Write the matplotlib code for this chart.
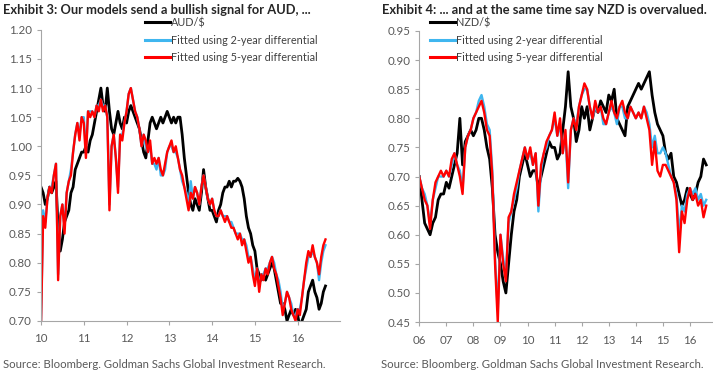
import numpy as np
import matplotlib
matplotlib.use("Agg")
import matplotlib.pyplot as plt

plt.rcParams['font.family'] = ['Lato', 'DejaVu Sans']

# ---- AUD panel data (values every 0.05 year from 2010.00) ----
aud_start, aud_step = 2010.0, 0.05
aud_spot = [0.93, 0.92, 0.90, 0.91, 0.93, 0.92, 0.93, 0.94, 0.86, 0.82, 0.84, 0.87, 0.88, 0.89, 0.92, 0.93, 0.96, 0.97, 0.98, 0.99,
            0.99, 1.00, 0.99, 1.01, 1.02, 1.04, 1.06, 1.08, 1.10, 1.07, 1.06, 1.10, 1.06, 1.03, 1.02, 1.04, 1.06, 1.04, 1.03, 1.05,
            1.04, 1.06, 1.07, 1.06, 1.05, 1.04, 1.03, 1.01, 0.99, 0.98, 1.01, 1.04, 1.05, 1.04, 1.03, 1.04, 1.05, 1.04, 1.05, 1.06,
            1.05, 1.04, 1.05, 1.04, 1.05, 1.05, 1.02, 0.98, 0.95, 0.92, 0.90, 0.89, 0.91, 0.90, 0.89, 0.92, 0.96, 0.93, 0.91, 0.89,
            0.89, 0.88, 0.87, 0.89, 0.90, 0.92, 0.93, 0.93, 0.94, 0.93, 0.94, 0.94, 0.945, 0.94, 0.93, 0.91, 0.88, 0.86, 0.85, 0.83,
            0.82, 0.79, 0.78, 0.77, 0.78, 0.77, 0.78, 0.79, 0.80, 0.79, 0.77, 0.75, 0.73, 0.73, 0.72, 0.70, 0.71, 0.72, 0.71, 0.72,
            0.71, 0.69, 0.70, 0.71, 0.72, 0.75, 0.76, 0.77, 0.75, 0.74, 0.72, 0.73, 0.75, 0.76]
aud_fit2 = [0.70, 0.89, 0.87, 0.91, 0.93, 0.93, 0.95, 0.97, 0.78, 0.88, 0.90, 0.86, 0.92, 0.94, 0.96, 0.99, 1.02, 1.04, 1.02, 1.05,
            1.05, 0.99, 1.06, 1.06, 1.06, 1.05, 1.07, 1.07, 1.08, 1.07, 1.07, 1.05, 0.90, 1.00, 1.02, 0.98, 0.93, 1.02, 1.02, 1.04,
            1.06, 1.09, 1.10, 1.08, 1.06, 1.05, 1.03, 1.00, 1.02, 1.00, 0.99, 1.00, 0.97, 0.97, 0.96, 0.98, 0.95, 0.95, 0.96, 0.99,
            1.00, 1.00, 0.99, 0.99, 0.98, 0.96, 0.94, 0.93, 0.92, 0.90, 0.94, 0.91, 0.93, 0.92, 0.90, 0.93, 0.95, 0.93, 0.91, 0.90,
            0.91, 0.89, 0.88, 0.88, 0.89, 0.88, 0.88, 0.88, 0.87, 0.87, 0.86, 0.85, 0.85, 0.85, 0.84, 0.84, 0.83, 0.81, 0.81, 0.79,
            0.77, 0.79, 0.76, 0.78, 0.78, 0.79, 0.79, 0.80, 0.81, 0.80, 0.78, 0.77, 0.75, 0.72, 0.73, 0.75, 0.74, 0.73, 0.71, 0.71,
            0.72, 0.72, 0.74, 0.77, 0.79, 0.81, 0.81, 0.82, 0.81, 0.80, 0.77, 0.80, 0.82, 0.83]
aud_fit5 = [0.69, 0.88, 0.86, 0.91, 0.93, 0.92, 0.95, 0.97, 0.77, 0.88, 0.90, 0.85, 0.92, 0.94, 0.95, 0.99, 1.02, 1.04, 1.01, 1.05,
            1.04, 0.98, 1.06, 1.05, 1.06, 1.05, 1.07, 1.06, 1.08, 1.06, 1.07, 1.05, 0.89, 1.00, 1.02, 0.98, 0.92, 1.02, 1.01, 1.04,
            1.06, 1.09, 1.10, 1.08, 1.06, 1.05, 1.03, 1.00, 1.02, 1.01, 0.99, 1.01, 0.97, 0.98, 0.97, 0.98, 0.96, 0.95, 0.97, 0.99,
            1.00, 1.01, 0.99, 1.00, 0.98, 0.96, 0.95, 0.93, 0.91, 0.89, 0.92, 0.91, 0.93, 0.92, 0.90, 0.93, 0.95, 0.93, 0.91, 0.90,
            0.91, 0.89, 0.88, 0.88, 0.89, 0.88, 0.87, 0.88, 0.87, 0.86, 0.86, 0.85, 0.84, 0.85, 0.83, 0.84, 0.82, 0.80, 0.81, 0.78,
            0.76, 0.79, 0.75, 0.78, 0.77, 0.79, 0.78, 0.80, 0.81, 0.79, 0.78, 0.76, 0.74, 0.71, 0.73, 0.75, 0.74, 0.72, 0.71, 0.70,
            0.72, 0.71, 0.74, 0.77, 0.80, 0.82, 0.81, 0.83, 0.81, 0.80, 0.78, 0.81, 0.83, 0.84]

# ---- NZD panel data (values every 0.1 year from 2006.0) ----
nzd_start, nzd_step = 2006.0, 0.1
nzd_spot = [0.70, 0.66, 0.62, 0.61, 0.60, 0.62, 0.63, 0.66, 0.67, 0.67,
            0.69, 0.68, 0.70, 0.72, 0.74, 0.80, 0.72, 0.76, 0.77, 0.78,
            0.77, 0.78, 0.80, 0.80, 0.78, 0.75, 0.73, 0.68, 0.60, 0.57,
            0.55, 0.52, 0.50, 0.55, 0.60, 0.64, 0.66, 0.70, 0.72, 0.74,
            0.72, 0.70, 0.71, 0.71, 0.68, 0.70, 0.72, 0.74, 0.76, 0.75,
            0.75, 0.73, 0.74, 0.78, 0.82, 0.88, 0.82, 0.80, 0.76, 0.78,
            0.82, 0.80, 0.82, 0.78, 0.80, 0.82, 0.81, 0.83, 0.82, 0.81,
            0.84, 0.83, 0.85, 0.80, 0.79, 0.78, 0.77, 0.82, 0.83, 0.84,
            0.85, 0.86, 0.85, 0.86, 0.87, 0.88, 0.84, 0.81, 0.79, 0.78,
            0.77, 0.74, 0.73, 0.74, 0.70, 0.69, 0.67, 0.65, 0.66, 0.68,
            0.67, 0.66, 0.67, 0.69, 0.70, 0.73, 0.72]
nzd_fit2 = [0.70, 0.68, 0.67, 0.65, 0.62, 0.66, 0.68, 0.70, 0.70, 0.70,
            0.71, 0.70, 0.72, 0.74, 0.72, 0.71, 0.68, 0.75, 0.77, 0.78,
            0.80, 0.81, 0.83, 0.84, 0.82, 0.79, 0.78, 0.71, 0.56, 0.47,
            0.60, 0.56, 0.53, 0.62, 0.64, 0.66, 0.68, 0.71, 0.73, 0.75,
            0.73, 0.74, 0.72, 0.74, 0.64, 0.71, 0.74, 0.75, 0.77, 0.78,
            0.80, 0.77, 0.79, 0.74, 0.77, 0.68, 0.78, 0.80, 0.79, 0.82,
            0.84, 0.85, 0.85, 0.82, 0.80, 0.82, 0.81, 0.82, 0.79, 0.79,
            0.81, 0.82, 0.81, 0.79, 0.82, 0.82, 0.80, 0.80, 0.82, 0.81,
            0.80, 0.81, 0.80, 0.82, 0.81, 0.79, 0.75, 0.77, 0.74, 0.74,
            0.75, 0.74, 0.72, 0.70, 0.69, 0.67, 0.60, 0.65, 0.64, 0.67,
            0.68, 0.67, 0.68, 0.66, 0.67, 0.65, 0.66]
nzd_fit5 = [0.70, 0.68, 0.66, 0.65, 0.61, 0.66, 0.69, 0.70, 0.71, 0.70,
            0.71, 0.70, 0.73, 0.74, 0.72, 0.70, 0.67, 0.75, 0.77, 0.78,
            0.80, 0.81, 0.82, 0.83, 0.81, 0.78, 0.77, 0.70, 0.55, 0.45,
            0.60, 0.55, 0.52, 0.63, 0.64, 0.67, 0.69, 0.71, 0.73, 0.75,
            0.73, 0.75, 0.72, 0.74, 0.65, 0.72, 0.74, 0.76, 0.77, 0.78,
            0.81, 0.77, 0.80, 0.74, 0.78, 0.69, 0.78, 0.80, 0.78, 0.82,
            0.84, 0.86, 0.85, 0.82, 0.80, 0.83, 0.81, 0.82, 0.80, 0.79,
            0.81, 0.83, 0.81, 0.80, 0.82, 0.83, 0.81, 0.80, 0.82, 0.81,
            0.80, 0.81, 0.80, 0.82, 0.80, 0.78, 0.72, 0.76, 0.71, 0.70,
            0.72, 0.72, 0.71, 0.70, 0.69, 0.66, 0.57, 0.64, 0.62, 0.66,
            0.68, 0.66, 0.67, 0.65, 0.66, 0.63, 0.65]

aud_labels = ['AUD/$', 'Fitted using 2-year differential', 'Fitted using 5-year differential']
nzd_labels = ['NZD/$', 'Fitted using 2-year differential', 'Fitted using 5-year differential']
colors = ['black', '#3fb6ef', '#ff0000']
grey = '#595959'

fig = plt.figure(figsize=(7.13, 3.78), dpi=100)


def panel(rect, start, step, series, labels, xlim, ylim, yticks, xticks, xticklabels, leg_x):
    ax = fig.add_axes(rect)
    t = start + step * np.arange(len(series[0]))
    widths = [2.0, 1.7, 1.7]
    for s, lab, c, w in zip(series, labels, colors, widths):
        ax.plot(t, s, color=c, lw=w, label=lab, solid_joinstyle='round')
    ax.set_xlim(*xlim)
    ax.set_ylim(*ylim)
    ax.set_yticks(yticks)
    ax.set_yticklabels(['%.2f' % v for v in yticks])
    ax.set_xticks(xticks)
    ax.set_xticklabels(xticklabels)
    for sp in ['top', 'right']:
        ax.spines[sp].set_visible(False)
    for sp in ['left', 'bottom']:
        ax.spines[sp].set_color('#a6a6a6')
        ax.spines[sp].set_linewidth(0.8)
    ax.tick_params(colors='#a6a6a6', labelcolor=grey, labelsize=8.3, length=3, width=0.8)
    ax.tick_params(axis='x', pad=6)
    leg = fig.legend(*ax.get_legend_handles_labels(), loc='upper left', bbox_to_anchor=(leg_x, 0.955),
                     frameon=False, fontsize=7.8, handlelength=2.3, handletextpad=0.15,
                     labelspacing=0.6, borderpad=0, borderaxespad=0)
    for txt in leg.get_texts():
        txt.set_color('#404040')
    for h in leg.get_lines():
        h.set_linewidth(2.2)
    return ax


panel([0.0575, 0.151, 0.42, 0.770], aud_start, aud_step, [aud_spot, aud_fit2, aud_fit5], aud_labels,
      (2010, 2017), (0.70, 1.20), np.round(np.arange(0.70, 1.201, 0.05), 2),
      list(range(2010, 2017)), [str(y)[2:] for y in range(2010, 2017)], 0.203)
panel([0.588, 0.148, 0.412, 0.770], nzd_start, nzd_step, [nzd_spot, nzd_fit2, nzd_fit5], nzd_labels,
      (2006, 2016.85), (0.45, 0.95), np.round(np.arange(0.45, 0.951, 0.05), 2),
      list(range(2006, 2017)), [str(y)[2:] for y in range(2006, 2017)], 0.603)

fig.text(0.004, 0.99, 'Exhibit 3: Our models send a bullish signal for AUD, ...', fontsize=9.3,
         fontweight='bold', color='#262626', va='top')
fig.text(0.536, 0.99, 'Exhibit 4: ... and at the same time say NZD is overvalued.', fontsize=9.3,
         fontweight='bold', color='#262626', va='top')
fig.text(0.004, 0.022, 'Source: Bloomberg. Goldman Sachs Global Investment Research.', fontsize=8.2,
         color=grey, va='bottom')
fig.text(0.534, 0.022, 'Source: Bloomberg. Goldman Sachs Global Investment Research.', fontsize=8.2,
         color=grey, va='bottom')

fig.savefig('out.png', dpi=100)
